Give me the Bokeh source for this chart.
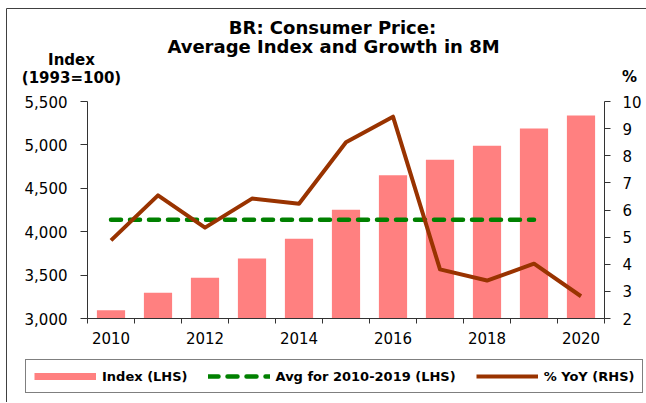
from bokeh.plotting import figure
from bokeh.models import (Range1d, LinearAxis, FixedTicker, NumeralTickFormatter,
                          Label, Legend, LegendItem, ColumnDataSource)
from bokeh.embed import file_html
from bokeh.resources import INLINE

# ---- data ----
years = [2010, 2011, 2012, 2013, 2014, 2015, 2016, 2017, 2018, 2019, 2020]
index_vals = [3096, 3296, 3469, 3691, 3918, 4252, 4651, 4828, 4990, 5189, 5339]
yoy_vals = [4.88, 6.54, 5.35, 6.42, 6.23, 8.50, 9.44, 3.81, 3.40, 4.02, 2.82]
avg_years = [2010, 2019]
avg_vals = [4138, 4138]
x_tick_labels = [2010, 2012, 2014, 2016, 2018, 2020]
left_ticks = [3000, 3500, 4000, 4500, 5000, 5500]
right_ticks = [2, 3, 4, 5, 6, 7, 8, 9, 10]

FONT = "DejaVu Sans"
AX = "#333333"

# ---- layout geometry (canvas pixels) ----
W, H = 646, 402
FL, FR, FT, FB = 87, 604, 101, 318      # where the data box sits on the canvas
X0, X1 = 2009.5, 2020.5
L0, L1 = 3000, 5500
R0, R1 = 2, 10
xs = (FR - FL) / (X1 - X0)
ls = (FB - FT) / (L1 - L0)
rs = (FB - FT) / (R1 - R0)

def dx(px):            # page x -> data x
    return X0 + (px + 1 - FL) / xs

def dy(py):            # page y -> left-axis data y
    return L1 - (py - 1 - FT) / ls

p = figure(width=W, height=H, output_backend="svg", toolbar_location=None,
           x_range=Range1d(X0 - FL / xs, X0 + (W - FL) / xs),
           y_range=Range1d(L1 - (H - FT) / ls, L1 + FT / ls),
           min_border=0, min_border_left=0, min_border_right=0,
           min_border_top=0, min_border_bottom=0,
           x_axis_type=None, y_axis_type=None)
p.extra_y_ranges = {"pct": Range1d(R1 - (H - FT) / rs, R1 + FT / rs)}
p.outline_line_color = None
p.xgrid.visible = False
p.ygrid.visible = False
p.background_fill_color = "white"
p.border_fill_color = "white"

# outer frame of the exhibit
p.segment(x0=[dx(5), dx(5)], y0=[dy(9), dy(9)], x1=[dx(5), dx(660)], y1=[dy(420), dy(9)],
          line_color="#404040", line_width=1)

src = ColumnDataSource(dict(x=years, idx=index_vals, yoy=yoy_vals))

bars = p.vbar(x="x", top="idx", bottom=L0, width=0.6, source=src,
              fill_color="#FF8080", line_color="#FF8080", line_width=0)
avg = p.line(avg_years, avg_vals, line_color="#008000", line_width=4.5,
             line_dash="10 9", line_cap="round")
yoy = p.line(x="x", y="yoy", source=src, y_range_name="pct",
             line_color="#993300", line_width=4, line_join="round")
# legend key for the bars (a thick swatch, as in the original); no visible data
bar_key = p.line(x=years[:2], y=[float("nan"), float("nan")],
                 line_color="#FF8080", line_width=7)

# axes (drawn at fixed data positions)
xax = LinearAxis(ticker=FixedTicker(ticks=x_tick_labels,
                                    minor_ticks=[y - 0.5 for y in years] + [X1]),
                 fixed_location=L0, bounds=(X0, X1))
xax.axis_line_color = AX
xax.major_tick_line_color = None
xax.major_tick_out = 5
xax.major_tick_in = 0
xax.minor_tick_line_color = AX
xax.minor_tick_out = 5
xax.minor_tick_in = 0
xax.major_label_standoff = 8
xax.major_label_text_font = FONT
xax.major_label_text_font_size = "15px"
xax.major_label_text_color = "black"
p.add_layout(xax, "below")

lax = LinearAxis(ticker=FixedTicker(ticks=left_ticks, minor_ticks=[]),
                 formatter=NumeralTickFormatter(format="0,0"),
                 fixed_location=X0, bounds=(L0, L1))
lax.axis_line_color = AX
lax.major_tick_line_color = AX
lax.major_tick_out = 7
lax.major_tick_in = 0
lax.major_label_standoff = 13
lax.major_label_text_font = FONT
lax.major_label_text_font_size = "15px"
lax.major_label_text_color = "black"
p.add_layout(lax, "left")

rax = LinearAxis(y_range_name="pct", ticker=FixedTicker(ticks=right_ticks, minor_ticks=[]),
                 fixed_location=X1, bounds=(R0, R1))
rax.axis_line_color = AX
rax.major_tick_line_color = AX
rax.major_tick_out = 6
rax.major_tick_in = 0
rax.major_label_standoff = 12
rax.major_label_text_font = FONT
rax.major_label_text_font_size = "15px"
rax.major_label_text_color = "black"
p.add_layout(rax, "right")

def lab(text, px, py, size):
    p.add_layout(Label(x=dx(px), y=dy(py), text=text, text_font=FONT,
                       text_font_size=size, text_font_style="bold",
                       text_align="center", text_baseline="middle", text_color="black"))

lab("BR: Consumer Price:", 331, 27.5, "18px")
lab("Average Index and Growth in 8M", 332, 46.5, "18px")
lab("Index", 70, 60, "15px")
lab("(1993=100)", 70, 78.5, "15px")
lab("%", 628, 77, "15px")

legend = Legend(items=[LegendItem(label="Index (LHS)", renderers=[bar_key]),
                       LegendItem(label="Avg for 2010-2019 (LHS)", renderers=[avg]),
                       LegendItem(label="% YoY (RHS)", renderers=[yoy])],
                orientation="horizontal", location=(25, 9),
                border_line_color="black", border_line_width=1,
                background_fill_color="white", background_fill_alpha=1,
                item_background_policy="none", item_background_fill_alpha=0,
                padding=8, spacing=20, label_standoff=6,
                glyph_width=62, glyph_height=16, label_height=16,
                label_text_font=FONT, label_text_font_size="13px",
                label_text_font_style="bold", label_text_color="black",
                margin=0)
p.add_layout(legend, "center")

open("out.html", "w").write(file_html(p, INLINE))
